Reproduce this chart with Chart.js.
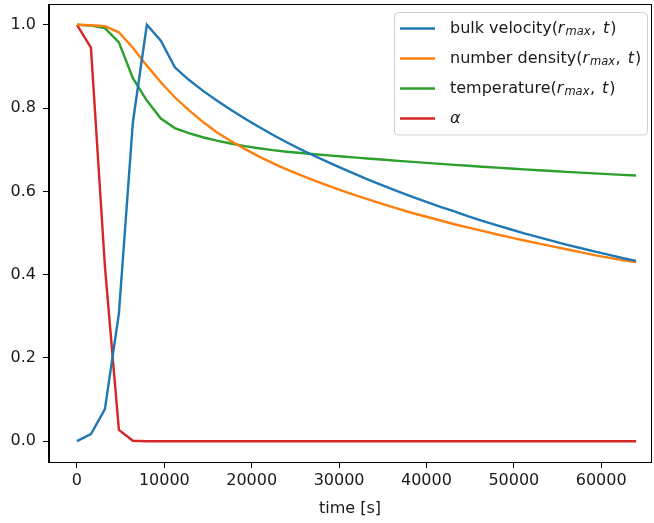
<!DOCTYPE html>
<html>
<head>
<meta charset="utf-8">
<script src="https://cdn.jsdelivr.net/npm/chart.js@4.4.1/dist/chart.umd.min.js"></script>
<style>
body { margin: 0; background: #fff; }
#wrap { width: 654px; height: 523px; }
</style>
</head>
<body>
<div id="wrap"><canvas id="c" width="654" height="523"></canvas></div>
<script>
// data
const times = [0, 1600, 3200, 4800, 6400, 8000, 9600, 11200, 12800, 14400,
  16000, 17600, 19200, 20800, 22400, 24000, 25600, 27200, 28800, 30400,
  32000, 33600, 35200, 36800, 38400, 40000, 41600, 43200, 44800, 46400,
  48000, 49600, 51200, 52800, 54400, 56000, 57600, 59200, 60800, 62400, 64000];

const bulkVelocity = [0.000, 0.017, 0.077, 0.307, 0.766, 1.000, 0.962, 0.898, 0.868, 0.842,
  0.818, 0.796, 0.775, 0.755, 0.736, 0.718, 0.701, 0.685, 0.6695, 0.6545,
  0.640, 0.626, 0.6125, 0.5995, 0.587, 0.575, 0.563, 0.552, 0.540, 0.529,
  0.519, 0.509, 0.499, 0.490, 0.481, 0.472, 0.464, 0.456, 0.448, 0.440, 0.433];

const numberDensity = [1.000, 0.999, 0.997, 0.982, 0.945, 0.902, 0.862, 0.826, 0.795, 0.767,
  0.742, 0.721, 0.702, 0.684, 0.668, 0.653, 0.639, 0.626, 0.613, 0.601,
  0.590, 0.579, 0.568, 0.558, 0.548, 0.539, 0.530, 0.521, 0.513, 0.505,
  0.497, 0.4895, 0.482, 0.475, 0.468, 0.461, 0.454, 0.447, 0.441, 0.435, 0.430];

const temperature = [1.000, 0.998, 0.992, 0.958, 0.872, 0.818, 0.775, 0.752, 0.740, 0.730,
  0.722, 0.715, 0.7085, 0.7035, 0.699, 0.6953, 0.692, 0.6892, 0.6864, 0.6837,
  0.6810, 0.6784, 0.6758, 0.6733, 0.6708, 0.6684, 0.6660, 0.6637, 0.6614, 0.6592,
  0.6570, 0.6549, 0.6528, 0.6508, 0.6488, 0.6469, 0.6450, 0.6432, 0.6414, 0.6397, 0.6380];

const alpha = [1.000, 0.945, 0.420, 0.027, 0.001, 0, 0, 0, 0, 0,
  0, 0, 0, 0, 0, 0, 0, 0, 0, 0,
  0, 0, 0, 0, 0, 0, 0, 0, 0, 0,
  0, 0, 0, 0, 0, 0, 0, 0, 0, 0, 0];

const seriesNames = ['bulk velocity(r_max, t)', 'number density(r_max, t)', 'temperature(r_max, t)', 'alpha'];
const seriesColors = ['#1f77b4', '#ff7f0e', '#2ca02c', '#d62728'];
const xTicks = [0, 10000, 20000, 30000, 40000, 50000, 60000];
const yTicks = [0.0, 0.2, 0.4, 0.6, 0.8, 1.0];

const FONT = 'DejaVu Sans';
const series = [bulkVelocity, numberDensity, temperature, alpha];

// legend text with mathtext-like pieces (n = normal, i = italic, s = subscript)
const legendParts = [
  [['bulk velocity(', 'n'], ['r', 'i'], ['max', 's'], [',', 'n'], ['t', 'i'], [')', 'n']],
  [['number density(', 'n'], ['r', 'i'], ['max', 's'], [',', 'n'], ['t', 'i'], [')', 'n']],
  [['temperature(', 'n'], ['r', 'i'], ['max', 's'], [',', 'n'], ['t', 'i'], [')', 'n']],
  [['\u03b1', 'i']],
];

const framePlugin = {
  id: 'frame',
  afterDatasetsDraw(chart) {
    const { ctx, chartArea: a } = chart;
    ctx.save();
    ctx.strokeStyle = '#000';
    ctx.lineWidth = 1;
    ctx.strokeRect(Math.round(a.left) - 0.5, Math.round(a.top) + 0.5,
      Math.round(a.right - a.left) + 1, Math.round(a.bottom - a.top));
    ctx.restore();
  }
};

const legendPlugin = {
  id: 'mplLegend',
  afterDraw(chart) {
    const { ctx } = chart;
    const bx = 394, by = 12.5, bw = 253, bh = 122.5;
    ctx.save();
    ctx.beginPath();
    ctx.roundRect(bx + 0.5, by, bw, bh, 4);
    ctx.fillStyle = 'rgba(255,255,255,0.8)';
    ctx.fill();
    ctx.strokeStyle = '#d0d0d0';
    ctx.lineWidth = 1;
    ctx.stroke();

    chart.data.datasets.forEach((ds, i) => {
      const y = 28.5 + i * 30;
      ctx.strokeStyle = ds.borderColor;
      ctx.lineWidth = 2.4;
      ctx.beginPath();
      ctx.moveTo(400, y);
      ctx.lineTo(435, y);
      ctx.stroke();

      let x = 450;
      ctx.fillStyle = '#1a1a1a';
      ctx.textBaseline = 'middle';
      legendParts[i].forEach(([t, k]) => {
        let dy = 0, gap = 0;
        if (k === 'n') ctx.font = `16px "${FONT}"`;
        else if (k === 'i') { ctx.font = `italic 16px "${FONT}"`; gap = 1; }
        else { ctx.font = `italic 11.5px "${FONT}"`; dy = 4; gap = 0.5; }
        if (t === ',') gap = 7;
        ctx.fillText(t, x, y + dy);
        x += ctx.measureText(t).width + gap;
      });
    });
    ctx.restore();
  }
};

const tickFont = { family: FONT, size: 16 };

new Chart(document.getElementById('c'), {
  type: 'line',
  data: {
    datasets: series.map((vals, i) => ({
      label: seriesNames[i],
      data: times.map((t, j) => ({ x: t, y: vals[j] })),
      borderColor: seriesColors[i],
      backgroundColor: seriesColors[i],
      borderWidth: 2.4,
      pointRadius: 0,
      tension: 0,
      fill: false,
    }))
  },
  options: {
    responsive: false,
    devicePixelRatio: 1,
    animation: false,
    layout: { padding: { top: 4, right: 3, left: 0, bottom: 0 } },
    plugins: { legend: { display: false }, tooltip: { enabled: false } },
    scales: {
      x: {
        type: 'linear',
        min: -3200,
        max: 65700,
        afterBuildTicks: (s) => { s.ticks = xTicks.map(v => ({ value: v })); },
        afterFit: (s) => { s.height = 61; s.paddingLeft = 0; s.paddingRight = 0; },
        grid: { drawOnChartArea: false, drawTicks: true, tickLength: 6, color: '#000' },
        border: { display: true, color: '#000', width: 1 },
        ticks: { color: '#1a1a1a', font: tickFont, padding: 3, maxRotation: 0, autoSkip: false,
          callback: (v) => String(v) },
        title: { display: true, text: 'time [s]', color: '#1a1a1a', font: tickFont, padding: { top: 2, bottom: 5 } },
      },
      y: {
        min: -0.05,
        max: 1.05,
        afterBuildTicks: (s) => { s.ticks = yTicks.map(v => ({ value: v })); },
        afterFit: (s) => { s.width = 49; s.paddingTop = 0; s.paddingBottom = 0; },
        grid: { drawOnChartArea: false, drawTicks: true, tickLength: 6, color: '#000' },
        border: { display: true, color: '#000', width: 1 },
        ticks: { color: '#1a1a1a', font: tickFont, padding: 7, autoSkip: false,
          callback: (v) => v.toFixed(1) },
      }
    }
  },
  plugins: [framePlugin, legendPlugin]
});
</script>
</body>
</html>
